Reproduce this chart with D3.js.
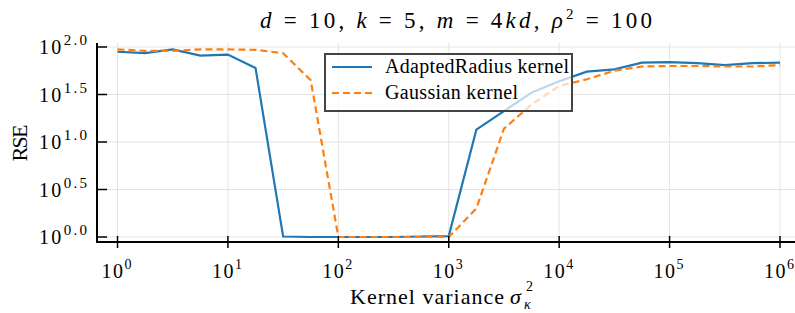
<!DOCTYPE html>
<html>
<head>
<meta charset="utf-8">
<script src="https://cdn.jsdelivr.net/npm/d3@7"></script>
<style>
  body { margin: 0; background: #fff; }
</style>
</head>
<body>
<div id="chart"></div>
<script>
// log10 of kernel variance, quarter-decade steps
const logVariance = [0, 0.25, 0.5, 0.75, 1, 1.25, 1.5, 1.75, 2, 2.25, 2.5, 2.75, 3,
    3.25, 3.5, 3.75, 4, 4.25, 4.5, 4.75, 5, 5.25, 5.5, 5.75, 6];
// log10 of RSE
const adaptedRadius = [1.95, 1.935, 1.975, 1.91, 1.92, 1.78, 0.005, 0.0, 0.0, 0.0, 0.0, 0.005, 0.01,
    1.13, 1.325, 1.52, 1.64, 1.74, 1.765, 1.835, 1.84, 1.83, 1.81, 1.83, 1.835];
const gaussian = [1.975, 1.96, 1.96, 1.975, 1.975, 1.97, 1.935, 1.65, 0.0, 0.0, 0.0, 0.0, 0.0,
    0.30, 1.14, 1.395, 1.59, 1.66, 1.75, 1.795, 1.80, 1.80, 1.795, 1.795, 1.81];
const xTicks = [0, 1, 2, 3, 4, 5, 6];
const yTicks = ["0.0", "0.5", "1.0", "1.5", "2.0"];

const W = 795, H = 313;
const svg = d3.select("#chart").append("svg")
    .attr("width", W).attr("height", H)
    .attr("font-family", "'Liberation Serif', 'DejaVu Serif', serif");

const x = d3.scaleLinear().domain([0, 6]).range([117.5, 780]);
const y = d3.scaleLinear().domain([0, 2]).range([237, 47]);
const plotLeft = 97, plotBottom = 242, plotTop = 43, plotRight = 795;

// grid
svg.append("g").selectAll("line").data(xTicks).enter().append("line")
    .attr("x1", d => x(d)).attr("x2", d => x(d))
    .attr("y1", plotTop).attr("y2", plotBottom)
    .attr("stroke", "#e4e4e4").attr("stroke-width", 1);
svg.append("g").selectAll("line").data(yTicks).enter().append("line")
    .attr("x1", plotLeft).attr("x2", plotRight)
    .attr("y1", d => y(+d)).attr("y2", d => y(+d))
    .attr("stroke", "#e4e4e4").attr("stroke-width", 1);

// series
const line = d3.line().x((d, i) => x(logVariance[i])).y(d => y(d));
svg.append("path").datum(adaptedRadius)
    .attr("d", line).attr("fill", "none")
    .attr("stroke", "#1f77b4").attr("stroke-width", 2.2);
svg.append("path").datum(gaussian)
    .attr("d", line).attr("fill", "none")
    .attr("stroke", "#ff7f0e").attr("stroke-width", 2.2)
    .attr("stroke-dasharray", "7,4");

// axes
svg.append("line").attr("x1", plotLeft).attr("x2", plotLeft).attr("y1", plotTop).attr("y2", plotBottom + 1)
    .attr("stroke", "#000").attr("stroke-width", 2);
svg.append("line").attr("x1", plotLeft - 1).attr("x2", plotRight).attr("y1", plotBottom).attr("y2", plotBottom)
    .attr("stroke", "#000").attr("stroke-width", 2);

// x ticks and labels
const xt = svg.append("g").selectAll("g").data(xTicks).enter().append("g");
xt.append("line")
    .attr("x1", d => x(d)).attr("x2", d => x(d))
    .attr("y1", plotBottom - 6).attr("y2", plotBottom + 6)
    .attr("stroke", "#000").attr("stroke-width", 1.5);
const xl = xt.append("text")
    .attr("x", d => x(d) - 1).attr("y", 278)
    .attr("text-anchor", "middle")
    .attr("textLength", 30)
    .style("font-size", "20px");
xl.append("tspan").text("10");
xl.append("tspan").attr("dy", -9).style("font-size", "14px").text(d => d);

// y ticks and labels
const yt = svg.append("g").selectAll("g").data(yTicks).enter().append("g");
yt.append("line")
    .attr("x1", plotLeft).attr("x2", plotLeft + 10)
    .attr("y1", d => y(+d)).attr("y2", d => y(+d))
    .attr("stroke", "#000").attr("stroke-width", 1.5);
const yl = yt.append("text")
    .attr("x", 39).attr("y", d => y(+d) + 7)
    .attr("textLength", 48)
    .style("font-size", "20px");
yl.append("tspan").text("10");
yl.append("tspan").attr("dy", -9).style("font-size", "15px").text(d => d);

// title
const title = svg.append("text")
    .attr("x", 260).attr("y", 28)
    .attr("textLength", 392)
    .style("font-size", "23px");
const parts = [["d", 1], [" = 10, ", 0], ["k", 1], [" = 5, ", 0], ["m", 1], [" = 4", 0],
    ["kd", 1], [", ", 0], ["ρ", 1]];
parts.forEach(p => title.append("tspan").style("font-style", p[1] ? "italic" : "normal").text(p[0]));
title.append("tspan").attr("dy", -9).style("font-size", "15px").text("2");
title.append("tspan").attr("dy", 9).text(" = 100");

// axis labels
svg.append("text")
    .attr("transform", "translate(27,143) rotate(-90)")
    .attr("text-anchor", "middle")
    .attr("textLength", 37)
    .style("font-size", "22px")
    .text("RSE");
svg.append("text")
    .attr("x", 350).attr("y", 304)
    .attr("textLength", 154)
    .style("font-size", "22px")
    .text("Kernel variance");
svg.append("text")
    .attr("x", 510).attr("y", 304)
    .style("font-size", "22px").style("font-style", "italic")
    .text("σ");
svg.append("text")
    .attr("x", 526).attr("y", 291)
    .style("font-size", "14px")
    .text("2");
svg.append("text")
    .attr("x", 524).attr("y", 309)
    .style("font-size", "14px").style("font-style", "italic")
    .text("κ");

// legend
const legend = svg.append("g");
legend.append("rect")
    .attr("x", 325).attr("y", 54).attr("width", 247).attr("height", 57)
    .attr("fill", "rgba(255,255,255,0.7)")
    .attr("stroke", "#444").attr("stroke-width", 2);
const entries = [["AdaptedRadius kernel", "#1f77b4", null, 184], ["Gaussian kernel", "#ff7f0e", "7,4", 133]];
entries.forEach((e, i) => {
    const ly = 67 + i * 26;
    legend.append("line")
        .attr("x1", 332).attr("x2", 372).attr("y1", ly).attr("y2", ly)
        .attr("stroke", e[1]).attr("stroke-width", 2.2)
        .attr("stroke-dasharray", e[2]);
    legend.append("text")
        .attr("x", 385).attr("y", ly + 6)
        .attr("textLength", e[3])
        .style("font-size", "20px")
        .text(e[0]);
});
</script>
</body>
</html>
